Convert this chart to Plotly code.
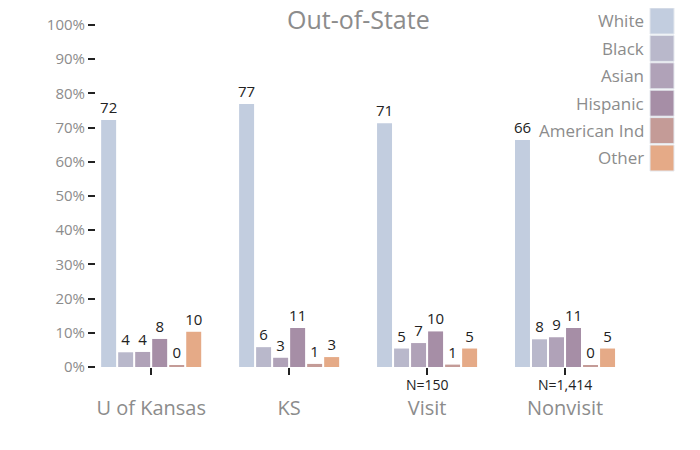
import plotly.graph_objects as go

categories = ["U of Kansas", "KS", "Visit", "Nonvisit"]
n_labels = ["", "", "N=150", "N=1,414"]
groups = ["White", "Black", "Asian", "Hispanic", "American Ind", "Other"]
colors = ["#c2cddf", "#b9b8cb", "#b0a2b8", "#a68ea6", "#c49b97", "#e5aa87"]

white = [72.2, 76.9, 71.3, 66.4]
black = [4.3, 5.8, 5.4, 8.1]
asian = [4.4, 2.7, 7.0, 8.7]
hispanic = [8.2, 11.4, 10.4, 11.4]
american_ind = [0.4, 0.9, 0.7, 0.4]
other = [10.3, 2.9, 5.4, 5.4]
series = [white, black, asian, hispanic, american_ind, other]

y_ticks = list(range(0, 101, 10))
y_ticktext = [f"{v}%" for v in y_ticks]

TITLE = "Out-of-State"
FONT = "Open Sans"
GRAY = "#8c8c8c"

OFF = 8  # page body margin
W, H = 700 - OFF, 450 - OFF
PL, PR, PT, PB = 96, 634, 25, 367  # plot area in page pixels
L, T = PL - OFF, PT - OFF
R, B = W - (PR - OFF), H - (PB - OFF)
pw, ph = W - L - R, H - T - B

def px_x(x):
    return (x - PL) / pw

def px_y(y):
    return (PB - y) / ph

fig = go.Figure()
x_idx = list(range(len(categories)))
for name, vals, col in zip(groups, series, colors):
    fig.add_trace(go.Bar(
        x=x_idx, y=vals, name=name,
        marker=dict(color=col, line=dict(width=0)),
        text=[f"{v:.0f}" for v in vals],
        textposition="outside", constraintext="none",
        textfont=dict(family=FONT, size=15, color="#222"),
        cliponaxis=False,
        showlegend=False,
    ))

fig.update_layout(
    width=W, height=H,
    margin=dict(l=L, r=R, t=T, b=B, autoexpand=False),
    paper_bgcolor="white", plot_bgcolor="white",
    barmode="group", bargap=0.26, bargroupgap=0.12,
    font=dict(family=FONT, color=GRAY),
    xaxis=dict(
        tickmode="array", tickvals=x_idx, ticktext=categories,
        range=[-0.4, 3.5], showgrid=False, zeroline=False, showline=False,
        ticks="outside", ticklen=7, tickcolor="#222", tickwidth=1.5,
        ticklabelstandoff=16,
        tickfont=dict(family=FONT, size=20, color=GRAY), automargin=False,
    ),
    yaxis=dict(
        range=[0, 100], tickmode="array", tickvals=y_ticks, ticktext=y_ticktext,
        showgrid=False, zeroline=False, showline=False,
        ticks="outside", ticklen=7, tickcolor="#222", tickwidth=2,
        tickfont=dict(family=FONT, size=15, color=GRAY), automargin=False,
    ),
)

# title
fig.add_annotation(xref="paper", yref="paper", x=px_x(358), y=px_y(19),
                   text=TITLE, showarrow=False, xanchor="center", yanchor="middle",
                   font=dict(family=FONT, size=25, color=GRAY))

# sample size notes under the x ticks
for i, n in enumerate(n_labels):
    if n:
        fig.add_annotation(xref="x", yref="paper", x=i, y=px_y(384),
                           text=n, showarrow=False, xanchor="center", yanchor="middle",
                           font=dict(family=FONT, size=14, color="#222"))

# legend: text on the left, swatch on the right
for i, (name, col) in enumerate(zip(groups, colors)):
    top = 8 + i * 27.4
    bot = top + 26
    fig.add_shape(type="rect", xref="paper", yref="paper",
                  x0=px_x(650), x1=px_x(674), y0=px_y(bot), y1=px_y(top),
                  fillcolor=col, line=dict(color="#e4e8ee", width=1))
    fig.add_annotation(xref="paper", yref="paper", x=px_x(646), y=px_y((top + bot) / 2),
                       text=name, showarrow=False, xanchor="right", yanchor="middle",
                       font=dict(family=FONT, size=17, color=GRAY))

fig.write_html("out.html")
